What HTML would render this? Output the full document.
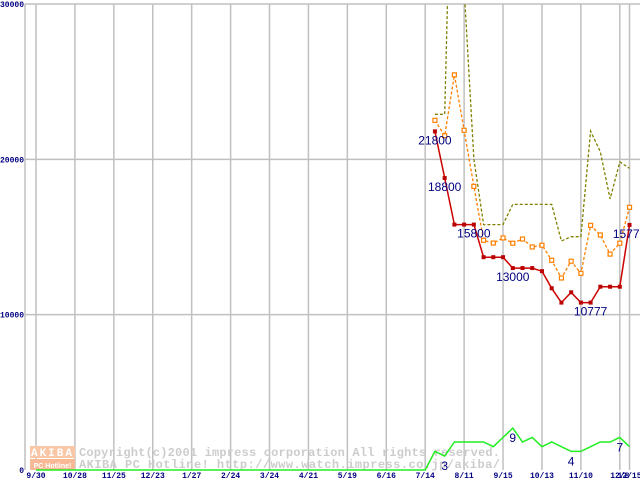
<!DOCTYPE html>
<html><head><meta charset="utf-8"><style>
html,body{margin:0;padding:0;background:#fff;}
svg{display:block;}
</style></head><body>
<svg id="chart" width="640" height="480" viewBox="0 0 640 480" xmlns="http://www.w3.org/2000/svg" font-family="Liberation Sans, sans-serif">
<g id="grid"></g>
<g id="wm">
  <rect x="30" y="446" width="45" height="12" fill="#f9c6a6"/>
  <text x="52.5" y="456" font-size="11" font-weight="bold" fill="#fff" text-anchor="middle" letter-spacing="2" font-family="Liberation Mono, monospace">AKIBA</text>
  <rect x="30" y="459" width="45" height="11" fill="#f9b896"/>
  <text x="52.5" y="468" font-size="7" font-weight="bold" fill="#fff" text-anchor="middle">PC Hotline!</text>
  <text x="79" y="456" font-size="12" font-weight="bold" fill="#cccccc" font-family="Liberation Mono, monospace" textLength="421">Copyright(c)2001 impress corporation All rights reserved.</text>
  <text x="79" y="468" font-size="12" font-weight="bold" fill="#cccccc" font-family="Liberation Mono, monospace" textLength="421">AKIBA PC Hotline!  http://www.watch.impress.co.jp/akiba/</text>
</g>
<g id="series"></g>
</svg>
<script>
const xLabels = ["9/30","10/28","11/25","12/23","1/27","2/24","3/24","4/21","5/19","6/16","7/14","8/11","9/15","10/13","11/10","12/8","12/15"];
const xLabelIdx = [0,4,8,12,16,20,24,28,32,36,40,44,48,52,56,60,61];
const yTicks = [0,10000,20000,30000];
const startIdx = 41;
const minPrice = [21800,18800,15800,15800,15800,13700,13700,13700,13000,13000,13000,12800,11700,10777,11440,10777,10777,11800,11800,11800,15777];
const avgPrice = [22510,21520,25440,21870,18260,14790,14610,14940,14600,14870,14360,14470,13500,12360,13440,12660,15750,15130,13900,14600,16910];
const maxPrice = [22900,22900,48000,31000,20000,15800,15800,15800,17100,17100,17100,17100,17100,14740,15020,15020,21820,20490,17450,19830,19420];
const shopCount = [0,0,0,0,0,0,0,0,0,0,0,0,0,0,0,0,0,0,0,0,0,0,0,0,0,0,0,0,0,0,0,0,0,0,0,0,0,0,0,0,0,4,3,6,6,6,6,5,7,9,6,7,5,6,5,4,4,5,6,6,7,5];
const minLabels = [[41,"21800"],[42,"18800"],[45,"15800"],[49,"13000"],[57,"10777"],[61,"15777"]];
const countLabels = [[42,"3"],[49,"9"],[55,"4"],[60,"7"]];
const countScale = 300;

const NS="http://www.w3.org/2000/svg";
const X = i => 36 + i*9.73;
const Y = v => 470 - v*466/30000;
function mk(tag, attrs, parent){const e=document.createElementNS(NS,tag);for(const k in attrs)e.setAttribute(k,attrs[k]);parent.appendChild(e);return e;}
const grid=document.getElementById('grid'), ser=document.getElementById('series');
// clip
const defs=mk('defs',{},document.getElementById('chart'));
const cp=mk('clipPath',{id:'plot'},defs); mk('rect',{x:25,y:4,width:615,height:470},cp);
ser.setAttribute('clip-path','url(#plot)');

yTicks.forEach(v=>{
  if(v>0){const l=mk('line',{x1:25,x2:640,y1:Y(v),y2:Y(v),stroke:'#c0c0c0','stroke-width':1.5},grid);
  
  }
  const t=mk('text',{x:v===0?24:24,y:Y(v)+3,'font-size':8,'font-weight':'bold',fill:'#000080','text-anchor':'end','font-family':'Liberation Mono, monospace'},grid);
  t.textContent=String(v);
  
  
});
const ax=mk('line',{x1:25,x2:25,y1:4,y2:470,stroke:'#c0c0c0','stroke-width':1.5},grid);


xLabelIdx.forEach((i,k)=>{
  const l=mk('line',{x1:X(i),x2:X(i),y1:4,y2:470,stroke:'#c0c0c0','stroke-width':1.5},grid);
  
  
  const t=mk('text',{x:X(i),y:478,'font-size':8,'font-weight':'bold',fill:'#000080','text-anchor':'middle','font-family':'Liberation Mono, monospace'},grid);
  t.textContent=xLabels[k];
  
  
});

function pts(arr,off){return arr.map((v,j)=>X(j+off).toFixed(1)+','+Y(v).toFixed(1)).join(' ');}
const gl=mk('polyline',{points:pts(shopCount.map(c=>c*countScale),0),fill:'none',stroke:'#22ee22','stroke-width':1.5},ser);


const ol=mk('polyline',{points:pts(maxPrice,startIdx),fill:'none',stroke:'#808000','stroke-width':1.3,'stroke-dasharray':'3,2'},ser);


const orl=mk('polyline',{points:pts(avgPrice,startIdx),fill:'none',stroke:'#ff8000','stroke-width':1.3,'stroke-dasharray':'3,2'},ser);


avgPrice.forEach((v,j)=>{
  const r=mk('rect',{x:X(j+startIdx)-2,y:Y(v)-2,width:4,height:4,fill:'#fff',stroke:'#ff8000','stroke-width':1.2},ser);
  
  
});
const rl=mk('polyline',{points:pts(minPrice,startIdx),fill:'none',stroke:'#cc0000','stroke-width':1.5},ser);


minPrice.forEach((v,j)=>{
  const r=mk('rect',{x:X(j+startIdx)-2,y:Y(v)-2,width:4,height:4,fill:'#bb0000'},ser);
  
  
});
minLabels.forEach(([i,s])=>{
  const t=mk('text',{x:X(i),y:Y(minPrice[i-startIdx])+13,'font-size':12,fill:'#000080','text-anchor':'middle'},document.getElementById('chart'));
  t.textContent=s;
  
  
});
countLabels.forEach(([i,s])=>{
  const t=mk('text',{x:X(i),y:Y(shopCount[i]*countScale)+14,'font-size':12,fill:'#000080','text-anchor':'middle'},document.getElementById('chart'));
  t.textContent=s;
  
  
});
</script>
</body></html>
